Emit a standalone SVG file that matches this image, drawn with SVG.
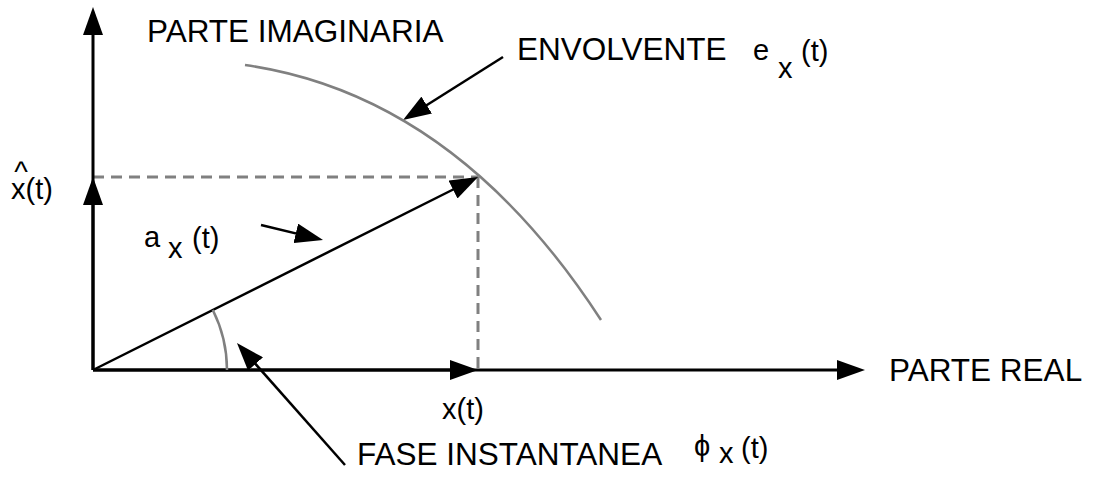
<svg xmlns="http://www.w3.org/2000/svg" width="1093" height="477" viewBox="0 0 1093 477">
<style>
text{font-family:"Liberation Sans",Arial,"DejaVu Sans",sans-serif;fill:#000}
.cap{font-size:31.5px}
.lab{font-size:29px}
.ln{stroke:#000;stroke-width:3;fill:none}
.thin{stroke:#000;stroke-width:2.5;fill:none}
.dash{stroke:#808080;stroke-width:3;stroke-dasharray:11 7;fill:none}
.gray{stroke:#808080;stroke-width:2.5;fill:none}
</style>
<defs>
<marker id="ah" markerWidth="28" markerHeight="20" refX="18" refY="10" orient="auto" markerUnits="userSpaceOnUse">
<path d="M0,0 L28,10 L0,20 z" fill="#000"/>
</marker>
</defs>
<g id="connectors">
<line class="dash" x1="93" y1="177" x2="478" y2="177"/>
<line class="dash" x1="478" y1="177" x2="478" y2="370"/>
<line class="ln" x1="93" y1="370" x2="93" y2="17" marker-end="url(#ah)"/>
<line class="ln" x1="93" y1="370" x2="93" y2="187" marker-end="url(#ah)"/>
<line class="ln" x1="93" y1="370" x2="855" y2="370" marker-end="url(#ah)"/>
<line class="ln" x1="93" y1="370" x2="468" y2="370" marker-end="url(#ah)"/>
<line class="thin" x1="93" y1="370" x2="469.1" y2="181.5" marker-end="url(#ah)"/>
<line class="thin" x1="261" y1="225" x2="313.3" y2="237.6" marker-end="url(#ah)"/>
<line class="thin" x1="503" y1="57" x2="411.5" y2="114.7" marker-end="url(#ah)"/>
<line class="thin" x1="345" y1="465" x2="243.6" y2="350.5" marker-end="url(#ah)"/>
</g>
<g id="envelope">
<path class="gray" d="M245,65 Q455,95 601,320"/>
</g>
<g id="phase-arc">
<path class="gray" stroke-width="2" d="M212.8,310 A134,134 0 0 1 227,370"/>
</g>
<g id="label-imag"><text class="cap" x="147" y="42">PARTE IMAGINARIA</text></g>
<g id="label-envelope">
<text class="cap" x="517" y="60">ENVOLVENTE</text>
<text class="lab" x="753" y="60">e</text>
<text class="lab" x="778" y="78">x</text>
<text class="lab" x="801" y="61">(t)</text>
</g>
<g id="label-xhat">
<text class="lab"><tspan x="21" y="182" text-anchor="middle">^</tspan><tspan x="11" y="199">x(t)</tspan></text>
</g>
<g id="label-ax">
<text class="lab" x="144" y="247">a</text>
<text class="lab" x="168" y="258">x</text>
<text class="lab" x="192" y="248">(t)</text>
</g>
<g id="label-xt"><text class="lab" x="442" y="419">x(t)</text></g>
<g id="label-real"><text class="cap" x="889" y="381">PARTE REAL</text></g>
<g id="label-phase">
<text class="cap" x="357" y="465">FASE INSTANTANEA</text>
<text class="lab" x="694" y="456" font-size="24">ϕ</text>
<text class="lab" x="719" y="463">x</text>
<text class="lab" x="741" y="458">(t)</text>
</g>
</svg>
